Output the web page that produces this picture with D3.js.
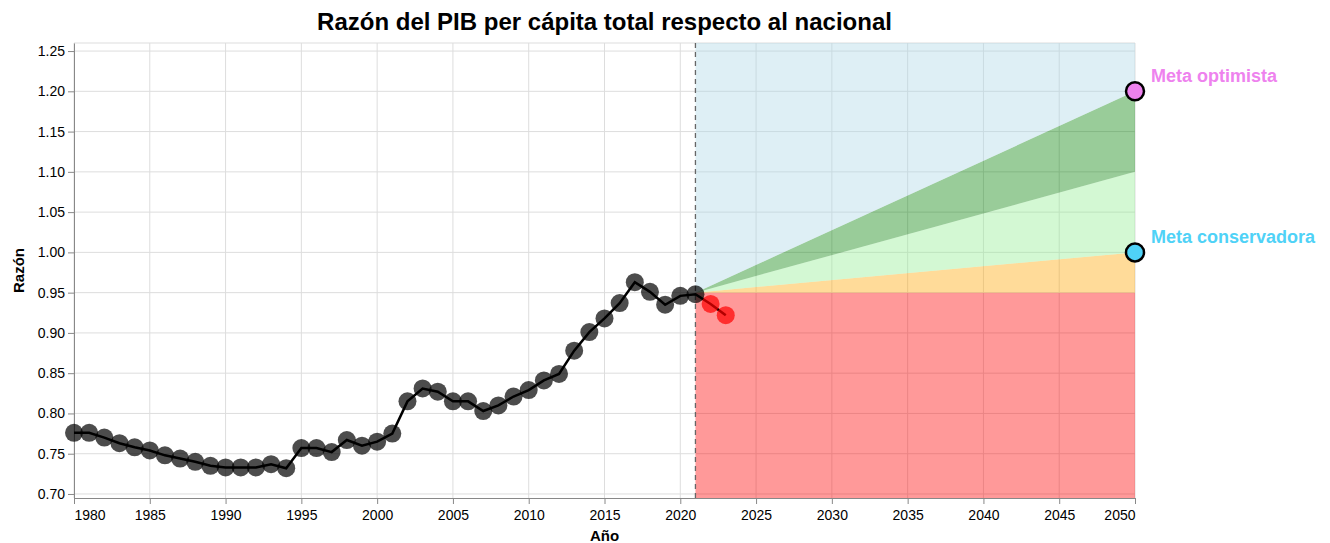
<!DOCTYPE html>
<html>
<head>
<meta charset="utf-8">
<script src="https://cdn.jsdelivr.net/npm/d3@7"></script>
<style>
  body { margin: 0; background: #fff; }
  text { font-family: "Liberation Sans", Arial, sans-serif; }
</style>
</head>
<body>
<div id="chart"></div>
<script>
// datos historicos
var years = d3.range(1980, 2024)
var ratio = [0.776, 0.776, 0.770, 0.763, 0.758, 0.754, 0.748, 0.744, 0.740, 0.735,
             0.733, 0.733, 0.733, 0.737, 0.732, 0.757, 0.757, 0.752, 0.767, 0.760,
             0.765, 0.775, 0.815, 0.831, 0.827, 0.815, 0.815, 0.803, 0.810, 0.821,
             0.829, 0.841, 0.849, 0.878, 0.901, 0.918, 0.937, 0.963, 0.951, 0.935,
             0.946, 0.948, 0.936, 0.922]
var lastObserved = 2021

// escenarios (inicio y fin)
var scenYears = [2021, 2050]
var base = [0.95, 0.95]
var conservador = [0.95, 1.00]
var intermedio = [0.95, 1.10]
var optimista = [0.95, 1.20]

var metas = [
  {name: "Meta optimista", year: 2050, value: 1.20, color: "#ee82ee"},
  {name: "Meta conservadora", year: 2050, value: 1.00, color: "#4fd2f7"}
]

var xTicks = d3.range(1980, 2051, 5)
var yTicks = d3.range(0.70, 1.2501, 0.05)

var margin = {top: 43, right: 195, bottom: 45, left: 74},
    width = 1330 - margin.left - margin.right,
    height = 543 - margin.top - margin.bottom

var svg = d3.select("#chart")
    .append("svg")
    .attr("width", 1330)
    .attr("height", 543)

var g = svg.append("g")
    .attr("transform", "translate(" + margin.left + "," + margin.top + ")")

var x = d3.scaleLinear().domain([1980, 2050]).range([0, width])
var y = d3.scaleLinear().domain([0.695, 1.26]).range([height, 0])

// grid
g.append("g").selectAll("line").data(xTicks).enter().append("line")
    .attr("x1", d => x(d)).attr("x2", d => x(d))
    .attr("y1", 0).attr("y2", height)
    .attr("stroke", "#ddd")
g.append("g").selectAll("line").data(yTicks).enter().append("line")
    .attr("x1", 0).attr("x2", width)
    .attr("y1", d => y(d)).attr("y2", d => y(d))
    .attr("stroke", "#ddd")
g.append("line").attr("x1", 0).attr("x2", width).attr("y1", 0).attr("y2", 0).attr("stroke", "#ddd")

// bandas de escenarios
function band(lo, hi) {
  var pts = scenYears.map((yr, i) => ({yr: yr, lo: lo[i], hi: hi[i]}))
  return d3.area().x(d => x(d.yr)).y0(d => y(d.lo)).y1(d => y(d.hi))(pts)
}
var yMax = [y.domain()[1], y.domain()[1]]
var yMin = [y.domain()[0], y.domain()[0]]
var bands = [
  {lo: base, hi: yMin, color: "red"},
  {lo: base, hi: conservador, color: "orange"},
  {lo: conservador, hi: intermedio, color: "lightgreen"},
  {lo: intermedio, hi: optimista, color: "green"},
  {lo: optimista, hi: yMax, color: "lightblue"}
]
g.append("g").selectAll("path").data(bands).enter().append("path")
    .attr("d", d => band(d.lo, d.hi))
    .attr("fill", d => d.color)
    .attr("opacity", 0.4)

// linea vertical
g.append("line")
    .attr("x1", x(lastObserved)).attr("x2", x(lastObserved))
    .attr("y1", 0).attr("y2", height)
    .attr("stroke", "#666").attr("stroke-width", 1.3)
    .attr("stroke-dasharray", "5,4")

// ejes
var xAxis = g.append("g")
    .attr("transform", "translate(0," + height + ")")
    .call(d3.axisBottom(x).tickValues(xTicks).tickFormat(d3.format("d")).tickSizeOuter(0))
var yAxis = g.append("g")
    .call(d3.axisLeft(y).tickValues(yTicks).tickFormat(d3.format(".2f")).tickSizeOuter(0))

;[xAxis, yAxis].forEach(function(a) {
  a.select(".domain").attr("stroke", "#888")
  a.selectAll(".tick line").attr("stroke", "#888")
  a.selectAll("text").attr("font-size", 14).attr("fill", "#000")
    .attr("font-family", "'Liberation Sans', Arial, sans-serif")
})
xAxis.selectAll("text").attr("dy", "0.9em")
xAxis.selectAll(".tick text").filter(d => d == 1980).attr("text-anchor", "start")
xAxis.selectAll(".tick text").filter(d => d == 2050).attr("text-anchor", "end")

// serie
var data = years.map((yr, i) => ({year: yr, value: ratio[i]}))

g.append("path")
    .datum(data)
    .attr("fill", "none")
    .attr("stroke", "#000")
    .attr("stroke-width", 2.5)
    .attr("d", d3.line().x(d => x(d.year)).y(d => y(d.value)))

g.append("g").selectAll("circle").data(data).enter().append("circle")
    .attr("cx", d => x(d.year))
    .attr("cy", d => y(d.value))
    .attr("r", 9)
    .attr("fill", d => d.year > lastObserved ? "red" : "#000")
    .attr("opacity", 0.7)

// metas
g.append("g").selectAll("circle").data(metas).enter().append("circle")
    .attr("cx", d => x(d.year))
    .attr("cy", d => y(d.value))
    .attr("r", 9)
    .attr("fill", d => d.color)
    .attr("stroke", "#000")
    .attr("stroke-width", 2.5)

g.append("g").selectAll("text").data(metas).enter().append("text")
    .attr("x", d => x(d.year) + 16)
    .attr("y", d => y(d.value) - 9)
    .attr("font-size", 18)
    .attr("font-weight", "bold")
    .attr("fill", d => d.color)
    .text(d => d.name)

// titulos
svg.append("text")
    .attr("x", margin.left + width / 2)
    .attr("y", 30)
    .attr("text-anchor", "middle")
    .attr("font-size", 24)
    .attr("font-weight", "bold")
    .text("Razón del PIB per cápita total respecto al nacional")

svg.append("text")
    .attr("x", margin.left + width / 2)
    .attr("y", 541)
    .attr("text-anchor", "middle")
    .attr("font-size", 15)
    .attr("font-weight", "bold")
    .text("Año")

svg.append("text")
    .attr("transform", "rotate(-90)")
    .attr("x", -(margin.top + height / 2))
    .attr("y", 24)
    .attr("text-anchor", "middle")
    .attr("font-size", 15)
    .attr("font-weight", "bold")
    .text("Razón")
</script>
</body>
</html>
